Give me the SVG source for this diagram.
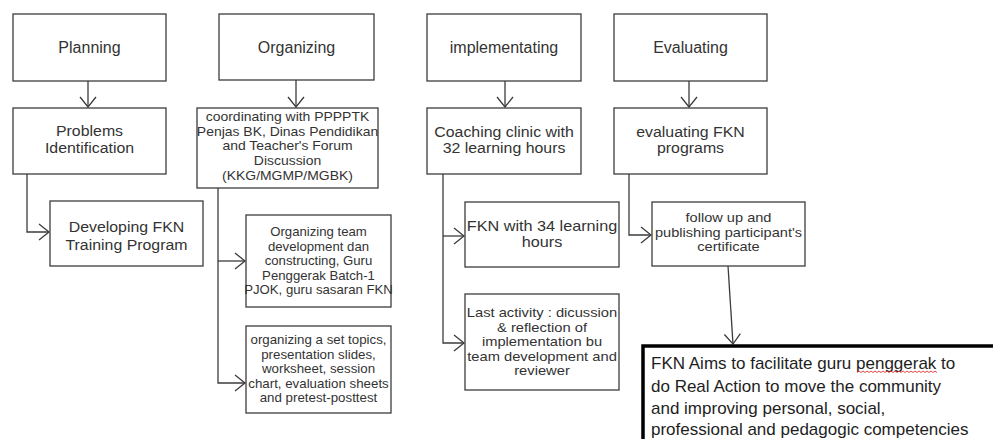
<svg xmlns="http://www.w3.org/2000/svg" width="993" height="439" viewBox="0 0 993 439">
<style>
.box{fill:#fff;stroke:#3c3c3c;stroke-width:1.3}
text{font-family:"Liberation Sans","Open Sans",Arial,sans-serif;fill:#333}
.t{text-anchor:middle}
.h{font-size:16px}
.m{font-size:15px}
.s{font-size:12.8px}
.b{fill:#1e1e1e;font-size:17px}
.c{fill:none;stroke:#3c3c3c;stroke-width:1.3}
</style>
<defs>
<marker id="ah" viewBox="-11 -9 12 18" markerWidth="12" markerHeight="18" refX="0" refY="0" orient="auto" markerUnits="userSpaceOnUse">
<path d="M-10,-8 L0,0 L-10,8" fill="none" stroke="#3c3c3c" stroke-width="1.3"/>
</marker>
</defs>
<g id="connectors">
<path class="c" d="M88,81 V107" marker-end="url(#ah)"/>
<path class="c" d="M296,80 V107" marker-end="url(#ah)"/>
<path class="c" d="M505,81 V107" marker-end="url(#ah)"/>
<path class="c" d="M689,81 V107" marker-end="url(#ah)"/>
<path class="c" d="M27,174 V232 H49" marker-end="url(#ah)"/>
<path class="c" d="M218,188 V383 H245" marker-end="url(#ah)"/>
<path class="c" d="M218,261 H245" marker-end="url(#ah)"/>
<path class="c" d="M443,174 V343 H464" marker-end="url(#ah)"/>
<path class="c" d="M443,236 H464" marker-end="url(#ah)"/>
<path class="c" d="M629,174 V235 H651" marker-end="url(#ah)"/>
<path class="c" d="M728,266 L733,344" marker-end="url(#ah)"/>
</g>
<g id="planning">
<rect class="box" x="13" y="14" width="153" height="67"/>
<text class="t h" x="89.5" y="52.5">Planning</text>
</g>
<g id="organizing">
<rect class="box" x="219" y="14" width="155" height="66"/>
<text class="t h" x="296.5" y="52.5">Organizing</text>
</g>
<g id="implementating">
<rect class="box" x="427" y="14" width="154" height="67"/>
<text class="t h" x="504" y="52.5">implementating</text>
</g>
<g id="evaluating">
<rect class="box" x="614" y="14" width="153" height="67"/>
<text class="t h" x="690.5" y="52.5">Evaluating</text>
</g>
<g id="problems">
<rect class="box" x="13" y="108" width="153" height="66"/>
<g transform="translate(89.5,0) scale(1.06,1)">
<text class="t m" x="0" y="136">Problems</text>
<text class="t m" x="0" y="153">Identification</text>
</g>
</g>
<g id="coordinating">
<rect class="box" x="197" y="108" width="181" height="80"/>
<g transform="translate(287.5,0) scale(1.09,1)">
<text class="t s" x="0" y="121.5">coordinating with PPPPTK</text>
<text class="t s" x="0" y="136">Penjas BK, Dinas Pendidikan</text>
<text class="t s" x="0" y="150.5">and Teacher's Forum</text>
<text class="t s" x="0" y="165.5">Discussion</text>
<text class="t s" x="0" y="180">(KKG/MGMP/MGBK)</text>
</g>
</g>
<g id="coaching">
<rect class="box" x="427" y="108" width="154" height="66"/>
<g transform="translate(504,0) scale(1.06,1)">
<text class="t m" x="0" y="137">Coaching clinic with</text>
<text class="t m" x="0" y="153">32 learning hours</text>
</g>
</g>
<g id="evaluating-fkn">
<rect class="box" x="614" y="108" width="153" height="66"/>
<g transform="translate(690.5,0) scale(1.06,1)">
<text class="t m" x="0" y="137">evaluating FKN</text>
<text class="t m" x="0" y="153">programs</text>
</g>
</g>
<g id="developing">
<rect class="box" x="50" y="201" width="153" height="65"/>
<g transform="translate(126.5,0) scale(1.06,1)">
<text class="t m" x="0" y="232">Developing FKN</text>
<text class="t m" x="0" y="250">Training Program</text>
</g>
</g>
<g id="team">
<rect class="box" x="246" y="215" width="145" height="92"/>
<g transform="translate(318.5,0) scale(1.03,1)">
<text class="t s" x="0" y="236.5">Organizing team</text>
<text class="t s" x="0" y="251">development dan</text>
<text class="t s" x="0" y="265.5">constructing, Guru</text>
<text class="t s" x="0" y="280">Penggerak Batch-1</text>
<text class="t s" x="0" y="294.5">PJOK, guru sasaran FKN</text>
</g>
</g>
<g id="topics">
<rect class="box" x="246" y="326" width="145" height="87"/>
<g transform="translate(318.5,0) scale(1.04,1)">
<text class="t s" x="0" y="344.5">organizing a set topics,</text>
<text class="t s" x="0" y="359">presentation slides,</text>
<text class="t s" x="0" y="373.5">worksheet, session</text>
<text class="t s" x="0" y="388">chart, evaluation sheets</text>
<text class="t s" x="0" y="402.5">and pretest-posttest</text>
</g>
</g>
<g id="fkn34">
<rect class="box" x="465" y="202" width="154" height="65"/>
<g transform="translate(542,0) scale(1.08,1)">
<text class="t m" x="0" y="231">FKN with 34 learning</text>
<text class="t m" x="0" y="247">hours</text>
</g>
</g>
<g id="last-activity">
<rect class="box" x="465" y="294" width="154" height="96"/>
<g transform="translate(542,0) scale(1.15,1)">
<text class="t s" x="0" y="317.5">Last activity : dicussion</text>
<text class="t s" x="0" y="332">&amp; reflection of</text>
<text class="t s" x="0" y="346.5">implementation bu</text>
<text class="t s" x="0" y="361">team development and</text>
<text class="t s" x="0" y="375.5">reviewer</text>
</g>
</g>
<g id="follow-up">
<rect class="box" x="652" y="202" width="153" height="64"/>
<g transform="translate(728.5,0) scale(1.14,1)">
<text class="t s" x="0" y="222.5">follow up and</text>
<text class="t s" x="0" y="237">publishing participant's</text>
<text class="t s" x="0" y="251.5">certificate</text>
</g>
</g>
<g id="fkn-aims">
<rect x="643" y="346" width="380" height="120" fill="#fff" stroke="#000" stroke-width="3.5"/>
<text class="b" x="651" y="369">FKN Aims to facilitate guru penggerak to</text>
<text class="b" x="651" y="391.5">do Real Action to move the community</text>
<text class="b" x="651" y="413.5">and improving personal, social,</text>
<text class="b" x="651" y="435">professional and pedagogic competencies</text>
<path d="M857,372.5 l2,-1.5 l2,1.5 l2,-1.5 l2,1.5 l2,-1.5 l2,1.5 l2,-1.5 l2,1.5 l2,-1.5 l2,1.5 l2,-1.5 l2,1.5 l2,-1.5 l2,1.5 l2,-1.5 l2,1.5 l2,-1.5 l2,1.5 l2,-1.5 l2,1.5 l2,-1.5 l2,1.5 l2,-1.5 l2,1.5 l2,-1.5 l2,1.5 l2,-1.5 l2,1.5 l2,-1.5 l2,1.5 l2,-1.5 l2,1.5 l2,-1.5 l2,1.5 l2,-1.5 l2,1.5 l2,-1.5 l2,1.5 l2,-1.5 l2,1.5" fill="none" stroke="#e03030" stroke-width="0.9"/>
</g>
</svg>
